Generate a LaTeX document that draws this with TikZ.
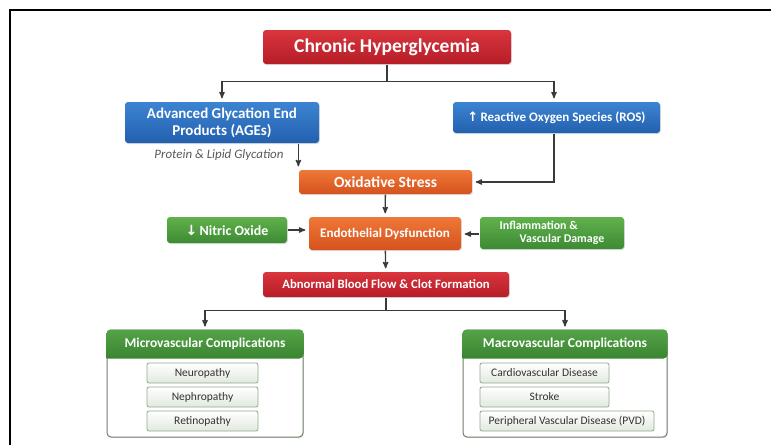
\documentclass[tikz,border=0pt]{standalone}
\usepackage{fontspec}
\setmainfont{Carlito}
\newfontfamily\arrowfont{DejaVu Sans}
\usepackage{xcolor}
\usepackage{tikz}
\usetikzlibrary{arrows,shadows}

\definecolor{redA}{HTML}{D9353D}
\definecolor{redB}{HTML}{B51D27}
\definecolor{blueA}{HTML}{3C84D2}
\definecolor{blueB}{HTML}{2360AE}
\definecolor{orangeA}{HTML}{EF7838}
\definecolor{orangeB}{HTML}{D6521D}
\definecolor{greenA}{HTML}{60B14C}
\definecolor{greenB}{HTML}{3D8A33}
\definecolor{headA}{HTML}{54A448}
\definecolor{headB}{HTML}{3A8430}
\definecolor{itemB}{HTML}{E2E8DF}
\definecolor{itemline}{HTML}{92AA8D}
\definecolor{boxline}{HTML}{6E8069}
\definecolor{linkcol}{HTML}{3A3A3A}

\begin{document}
\begin{tikzpicture}[x=1pt,y=-1pt,->,>=stealth',shorten >=3pt,line width=1.3pt,draw=linkcol,
    main node/.style={rectangle,rounded corners=3pt,inner sep=0pt,text=white,font=\bfseries,align=center,
      drop shadow={opacity=0.25,shadow xshift=0.8pt,shadow yshift=-1.2pt}},
    red node/.style={main node,top color=redA,bottom color=redB},
    blue node/.style={main node,top color=blueA,bottom color=blueB},
    orange node/.style={main node,top color=orangeA,bottom color=orangeB},
    green node/.style={main node,top color=greenA,bottom color=greenB},
    group node/.style={rectangle,rounded corners=4pt,draw=boxline,line width=1pt,fill=white,
      minimum height=107pt,drop shadow={opacity=0.2,shadow xshift=0.8pt,shadow yshift=-1.2pt}},
    head text/.style={text=white,font=\fontsize{13.5}{15}\selectfont\bfseries},
    item node/.style={rectangle,rounded corners=2pt,draw=itemline,line width=0.8pt,top color=white,bottom color=itemB,
      minimum height=20pt,inner sep=0pt,text=black!80,font=\fontsize{11.5}{13}\selectfont}]
    \useasboundingbox (0,0) rectangle (771,445);
    \draw[-,shorten >=0pt,line width=2pt,black] (10,445) -- (10,10) -- (771,10);

    \node[red node,minimum width=248pt,minimum height=34pt,font=\fontsize{19.5}{22}\selectfont\bfseries] (hyper) at (387,47) {Chronic Hyperglycemia};
    \node[blue node,minimum width=194pt,minimum height=41pt,font=\fontsize{15}{17}\selectfont\bfseries] (ages) at (222,122.5) {Advanced Glycation End\\Products (AGEs)};
    \node[blue node,minimum width=207pt,minimum height=31pt,font=\fontsize{13}{15}\selectfont\bfseries] (ros) at (556.5,117.5) {{\arrowfont\bfseries ↑}\,Reactive Oxygen Species (ROS)};
    \node[text=black!65,font=\fontsize{12.9}{15}\selectfont\itshape] (glyc) at (219,155) {Protein \& Lipid Glycation};
    \node[orange node,minimum width=173pt,minimum height=24pt,font=\fontsize{15.5}{17}\selectfont\bfseries] (ox) at (385.5,182) {Oxidative Stress};
    \node[green node,minimum width=120pt,minimum height=26pt,font=\fontsize{14}{16}\selectfont\bfseries] (no) at (227,230) {{\arrowfont\bfseries ↓}\,Nitric Oxide};
    \node[orange node,minimum width=152pt,minimum height=33pt,font=\fontsize{13.1}{15}\selectfont\bfseries] (endo) at (385,233.5) {Endothelial Dysfunction};
    \node[green node,minimum width=144pt,minimum height=32pt,align=left,font=\fontsize{11.9}{13.5}\selectfont\bfseries] (infl) at (552,233) {Inflammation \&\\\hspace*{20pt}Vascular Damage};
    \node[red node,minimum width=246pt,minimum height=25pt,font=\fontsize{12.7}{15}\selectfont\bfseries] (flow) at (386,284.5) {Abnormal Blood Flow \& Clot Formation};

    \node[group node,minimum width=196pt] (micro) at (205,383.5) {};
    \shade[-,top color=headA,bottom color=headB] ([yshift=-29pt]micro.north west) [rounded corners=4pt] -- (micro.north west) -- (micro.north east) -- ([yshift=-29pt]micro.north east) [sharp corners] -- cycle;
    \node[head text] (microhd) at ([yshift=-14.5pt]micro.north) {Microvascular Complications};
    \node[item node,minimum width=111pt] (neuro) at (202.5,373) {Neuropathy};
    \node[item node,minimum width=111pt] (nephro) at (202.5,397) {Nephropathy};
    \node[item node,minimum width=111pt] (retino) at (202.5,421) {Retinopathy};

    \node[group node,minimum width=204pt] (macro) at (565,383.5) {};
    \shade[-,top color=headA,bottom color=headB] ([yshift=-29pt]macro.north west) [rounded corners=4pt] -- (macro.north west) -- (macro.north east) -- ([yshift=-29pt]macro.north east) [sharp corners] -- cycle;
    \node[head text] (macrohd) at ([yshift=-14.5pt]macro.north) {Macrovascular Complications};
    \node[item node,minimum width=129pt] (cvd) at (544.5,373) {Cardiovascular Disease};
    \node[item node,minimum width=129pt] (stroke) at (544.5,397) {Stroke};
    \node[item node,minimum width=174pt] (pvd) at (567,421) {Peripheral Vascular Disease (PVD)};

    \draw (hyper.south) -- ++(0,17) -| (ages.north);
    \draw (hyper.south) -- ++(0,17) -| ([xshift=-2.5pt]ros.north);
    \draw (ages.south -| ox.north west) -- (ox.north west);
    \draw ([xshift=-2.5pt]ros.south) |- (ox.east);
    \draw (no.east) -- (no.east -| endo.west);
    \draw ([yshift=-1pt]infl.west) -- ([yshift=-1pt]infl.west -| endo.east);
    \path
    (ox) edge (endo)
    (endo) edge (flow);
    \draw (flow.south) -- ++(0,13) -| (micro.north);
    \draw (flow.south) -- ++(0,13) -| (macro.north);
  \end{tikzpicture}
\end{document}
